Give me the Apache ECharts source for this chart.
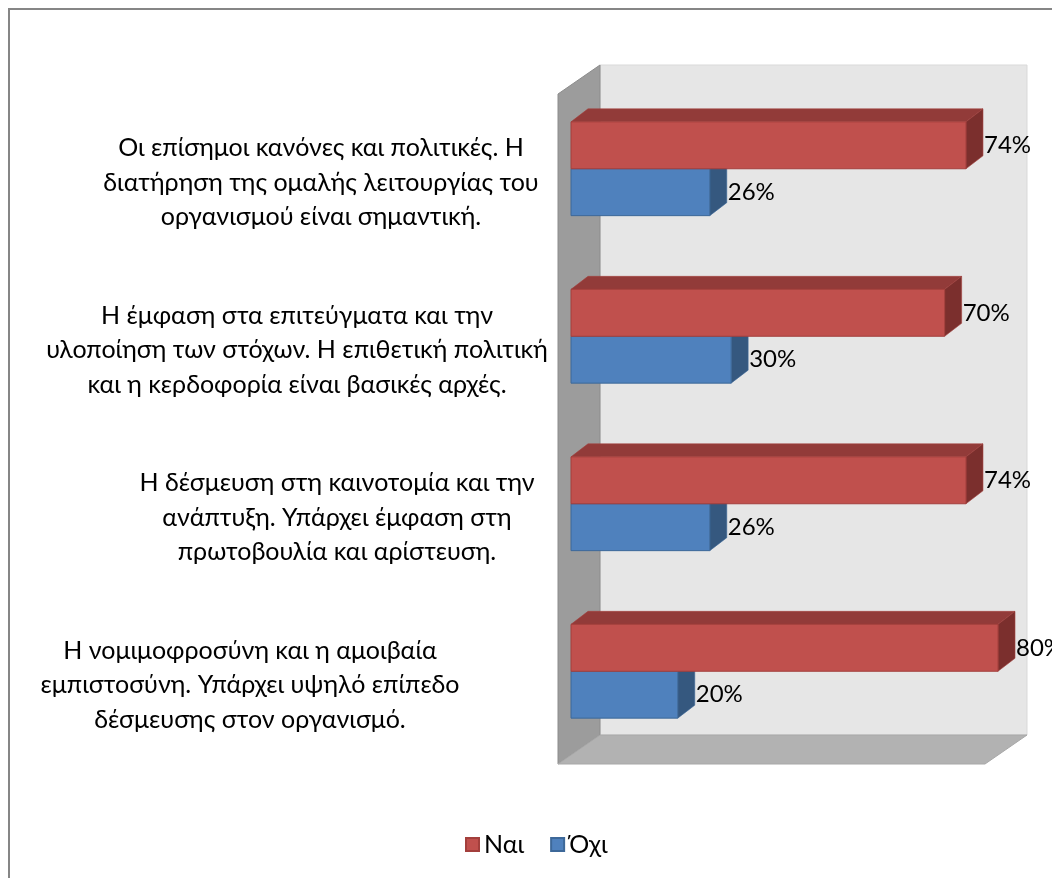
<!DOCTYPE html>
<html>
<head>
<meta charset="utf-8">
<script src="https://cdn.jsdelivr.net/npm/echarts@6/dist/echarts.min.js"></script>
<style>
  html, body { margin: 0; padding: 0; background: #ffffff; }
  #chart { width: 1052px; height: 878px; }
</style>
</head>
<body>
<div id="chart"></div>
<script>
// Survey statements (top to bottom) and the share of "Ναι" / "Όχι" answers
const categories = [
  'Οι επίσημοι κανόνες και πολιτικές. Η\nδιατήρηση της ομαλής λειτουργίας του\nοργανισμού είναι σημαντική.',
  'Η έμφαση στα επιτεύγματα και την\nυλοποίηση των στόχων. Η επιθετική πολιτική\nκαι η κερδοφορία είναι βασικές αρχές.',
  'Η δέσμευση στη καινοτομία και την\nανάπτυξη. Υπάρχει έμφαση στη\nπρωτοβουλία και αρίστευση.',
  'Η νομιμοφροσύνη και η αμοιβαία\nεμπιστοσύνη. Υπάρχει υψηλό επίπεδο\nδέσμευσης στον οργανισμό.'
];
const seriesNames = ['Ναι', 'Όχι'];
const yesValues = [0.74, 0.70, 0.74, 0.80];
const noValues = [0.26, 0.30, 0.26, 0.20];

const FONT = 'Lato, "Noto Sans", sans-serif';

// pseudo-3D geometry: depth of the plot box and of each bar
const WALL_DX = 42, WALL_DY = 29;
const FRONT_DX = -13, FRONT_DY = 9;   // front plane relative to the bar plane
const BAR_DX = 17, BAR_DY = 13;
const BAR_RATIO = 0.28;

const palette = {
  'Ναι': { front: '#C0504D', top: '#923B39', side: '#7B2F2D', edge: '#A33F3C' },
  'Όχι': { front: '#4F81BD', top: '#3B6393', side: '#35587F', edge: '#3D6899' }
};

function toPairs(values) {
  return values.map((v, i) => [v, i]);
}

function barRenderer(name, upper) {
  const c = palette[name];
  return function (params, api) {
    const cat = api.value(1);
    const val = api.value(0);
    const p0 = api.coord([0, cat]);
    const p1 = api.coord([val, cat]);
    const band = api.size([0, 1])[1];
    const h = band * BAR_RATIO;
    const top = upper ? p0[1] - h : p0[1];
    const x0 = p0[0], x1 = p1[0];
    return {
      type: 'group',
      children: [
        {
          type: 'polygon',
          shape: { points: [[x0, top], [x0 + BAR_DX, top - BAR_DY], [x1 + BAR_DX, top - BAR_DY], [x1, top]] },
          style: { fill: c.top, stroke: c.edge, lineWidth: 0.6 }
        },
        {
          type: 'polygon',
          shape: { points: [[x1, top], [x1 + BAR_DX, top - BAR_DY], [x1 + BAR_DX, top + h - BAR_DY], [x1, top + h]] },
          style: { fill: c.side, stroke: c.edge, lineWidth: 0.6 }
        },
        {
          type: 'rect',
          shape: { x: x0, y: top, width: x1 - x0, height: h },
          style: { fill: c.front, stroke: c.edge, lineWidth: 1 }
        },
        {
          type: 'text',
          style: {
            text: Math.round(val * 100) + '%',
            x: x1 + BAR_DX + 1,
            y: top + h / 2,
            align: 'left',
            verticalAlign: 'middle',
            fill: '#000000',
            fontSize: 24,
            fontFamily: FONT
          }
        }
      ]
    };
  };
}

function wallRenderer(params, api) {
  const cs = params.coordSys;
  const fx = cs.x + FRONT_DX, fy = cs.y + FRONT_DY;
  const fr = cs.x + cs.width + FRONT_DX, fb = cs.y + cs.height + FRONT_DY;
  return {
    type: 'group',
    silent: true,
    children: [
      {
        type: 'rect',
        shape: { x: fx + WALL_DX, y: fy - WALL_DY, width: fr - fx, height: fb - fy },
        style: { fill: '#E6E6E6', stroke: '#D9D9D9', lineWidth: 1 }
      },
      {
        type: 'polygon',
        shape: { points: [[fx, fy], [fx + WALL_DX, fy - WALL_DY], [fx + WALL_DX, fb - WALL_DY], [fx, fb]] },
        style: { fill: '#9C9C9C', stroke: '#8C8C8C', lineWidth: 1 }
      },
      {
        type: 'polygon',
        shape: { points: [[fx, fb], [fx + WALL_DX, fb - WALL_DY], [fr + WALL_DX, fb - WALL_DY], [fr, fb]] },
        style: { fill: '#B2B2B2', stroke: '#A8A8A8', lineWidth: 1 }
      }
    ]
  };
}

// each label block is centred on its own x: a trailing blank spacer of width 2*shift
// moves the centred text of that category to the left by "shift" pixels
const labelShift = [16, 40, 0, 87];
const rich = {
  t: { fontSize: 25, fontFamily: FONT, color: '#000000', lineHeight: 34.5, align: 'center' }
};
labelShift.forEach((s, i) => {
  rich['s' + i] = { width: Math.max(2 * s, 0.01), fontSize: 25, lineHeight: 34.5, align: 'center' };
});

function categoryLabel(value, index) {
  return value.split('\n')
    .map(line => '{t|' + line + '}{s' + index + '| }')
    .join('\n');
}

const chart = echarts.init(document.getElementById('chart'), null, { renderer: 'canvas' });

chart.setOption({
  backgroundColor: '#ffffff',
  animation: false,
  graphic: [{
    type: 'rect',
    shape: { x: 9, y: 9, width: 1200, height: 1000 },
    style: { fill: 'none', stroke: '#868686', lineWidth: 2 },
    silent: true,
    z: 100
  }],
  legend: {
    data: seriesNames,
    left: 465,
    top: 832,
    padding: 0,
    icon: 'rect',
    itemWidth: 13,
    itemHeight: 13,
    itemGap: 26,
    textStyle: { fontSize: 25, fontFamily: FONT, color: '#000000' }
  },
  grid: { left: 571, top: 85, width: 427, height: 670 },
  xAxis: {
    type: 'value',
    min: 0,
    max: 0.8,
    show: false,
    splitLine: { show: false }
  },
  yAxis: {
    type: 'category',
    data: categories,
    inverse: true,
    axisLine: { show: false },
    axisTick: { show: false },
    splitLine: { show: false },
    axisLabel: {
      interval: 0,
      margin: 234,
      align: 'center',
      padding: [28, 0, 0, 0],
      formatter: categoryLabel,
      rich: rich
    }
  },
  series: [
    {
      type: 'custom',
      name: 'walls',
      silent: true,
      z: 1,
      data: [[0, 0]],
      encode: { x: 0, y: 1 },
      renderItem: wallRenderer
    },
    {
      type: 'custom',
      name: seriesNames[0],
      z: 3,
      itemStyle: { color: palette['Ναι'].front, borderColor: palette['Ναι'].edge, borderWidth: 1 },
      data: toPairs(yesValues),
      encode: { x: 0, y: 1 },
      renderItem: barRenderer(seriesNames[0], true)
    },
    {
      type: 'custom',
      name: seriesNames[1],
      z: 2,
      itemStyle: { color: palette['Όχι'].front, borderColor: palette['Όχι'].edge, borderWidth: 1 },
      data: toPairs(noValues),
      encode: { x: 0, y: 1 },
      renderItem: barRenderer(seriesNames[1], false)
    }
  ]
});
</script>
</body>
</html>
